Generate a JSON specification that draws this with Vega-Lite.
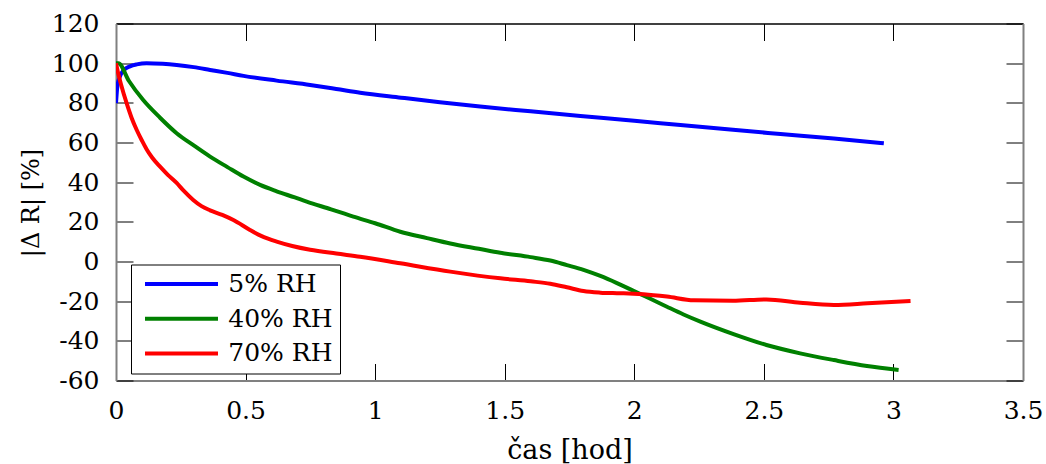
{
  "$schema": "https://vega.github.io/schema/vega-lite/v6.json",
  "autosize": {"type": "none"},
  "width": 907,
  "height": 357,
  "padding": {"left": 116, "top": 23.5, "right": 23, "bottom": 83.5},
  "background": "white",
  "config": {
    "view": {"stroke": null},
    "font": "DejaVu Serif",
    "axis": {
      "grid": false,
      "labelFont": "DejaVu Serif",
      "titleFont": "DejaVu Serif",
      "labelFontSize": 25,
      "titleFontSize": 25,
      "labelColor": "black",
      "titleColor": "black",
      "titleFontWeight": "normal",
      "tickColor": "black",
      "tickWidth": 1,
      "tickSize": -17,
      "domainColor": "#808080",
      "domainWidth": 2
    }
  },
  "data": {
    "values": [
      {"t": 0, "v": 79.8, "s": "5% RH"},
      {"t": 0.005, "v": 88, "s": "5% RH"},
      {"t": 0.015, "v": 93.2, "s": "5% RH"},
      {"t": 0.03, "v": 96.5, "s": "5% RH"},
      {"t": 0.054, "v": 98.4, "s": "5% RH"},
      {"t": 0.08, "v": 99.4, "s": "5% RH"},
      {"t": 0.118, "v": 100, "s": "5% RH"},
      {"t": 0.18, "v": 99.7, "s": "5% RH"},
      {"t": 0.234, "v": 99.1, "s": "5% RH"},
      {"t": 0.3, "v": 98, "s": "5% RH"},
      {"t": 0.363, "v": 96.6, "s": "5% RH"},
      {"t": 0.43, "v": 95.1, "s": "5% RH"},
      {"t": 0.492, "v": 93.6, "s": "5% RH"},
      {"t": 0.62, "v": 91.2, "s": "5% RH"},
      {"t": 0.749, "v": 89, "s": "5% RH"},
      {"t": 0.85, "v": 87, "s": "5% RH"},
      {"t": 0.942, "v": 85.1, "s": "5% RH"},
      {"t": 1.1, "v": 82.6, "s": "5% RH"},
      {"t": 1.25, "v": 80.3, "s": "5% RH"},
      {"t": 1.405, "v": 78.1, "s": "5% RH"},
      {"t": 1.6, "v": 75.7, "s": "5% RH"},
      {"t": 1.792, "v": 73.4, "s": "5% RH"},
      {"t": 2.0, "v": 71, "s": "5% RH"},
      {"t": 2.178, "v": 68.8, "s": "5% RH"},
      {"t": 2.37, "v": 66.5, "s": "5% RH"},
      {"t": 2.564, "v": 64.3, "s": "5% RH"},
      {"t": 2.77, "v": 62, "s": "5% RH"},
      {"t": 2.963, "v": 59.6, "s": "5% RH"},

      {"t": 0, "v": 100, "s": "40% RH"},
      {"t": 0.009, "v": 100, "s": "40% RH"},
      {"t": 0.05, "v": 91, "s": "40% RH"},
      {"t": 0.105, "v": 81.4, "s": "40% RH"},
      {"t": 0.17, "v": 72.5, "s": "40% RH"},
      {"t": 0.234, "v": 64.7, "s": "40% RH"},
      {"t": 0.3, "v": 58.5, "s": "40% RH"},
      {"t": 0.363, "v": 52.9, "s": "40% RH"},
      {"t": 0.43, "v": 47.6, "s": "40% RH"},
      {"t": 0.492, "v": 42.8, "s": "40% RH"},
      {"t": 0.556, "v": 38.6, "s": "40% RH"},
      {"t": 0.62, "v": 35.4, "s": "40% RH"},
      {"t": 0.69, "v": 32.3, "s": "40% RH"},
      {"t": 0.736, "v": 30.2, "s": "40% RH"},
      {"t": 0.83, "v": 26.3, "s": "40% RH"},
      {"t": 0.916, "v": 22.6, "s": "40% RH"},
      {"t": 1.0, "v": 19.3, "s": "40% RH"},
      {"t": 1.097, "v": 15, "s": "40% RH"},
      {"t": 1.2, "v": 11.8, "s": "40% RH"},
      {"t": 1.29, "v": 9.1, "s": "40% RH"},
      {"t": 1.4, "v": 6.4, "s": "40% RH"},
      {"t": 1.483, "v": 4.4, "s": "40% RH"},
      {"t": 1.6, "v": 2.2, "s": "40% RH"},
      {"t": 1.676, "v": 0.5, "s": "40% RH"},
      {"t": 1.74, "v": -1.8, "s": "40% RH"},
      {"t": 1.804, "v": -4.2, "s": "40% RH"},
      {"t": 1.869, "v": -7.3, "s": "40% RH"},
      {"t": 1.933, "v": -10.9, "s": "40% RH"},
      {"t": 1.997, "v": -14.8, "s": "40% RH"},
      {"t": 2.062, "v": -18.8, "s": "40% RH"},
      {"t": 2.126, "v": -22.8, "s": "40% RH"},
      {"t": 2.19, "v": -26.7, "s": "40% RH"},
      {"t": 2.255, "v": -30.3, "s": "40% RH"},
      {"t": 2.383, "v": -36.6, "s": "40% RH"},
      {"t": 2.51, "v": -42.1, "s": "40% RH"},
      {"t": 2.64, "v": -46.3, "s": "40% RH"},
      {"t": 2.77, "v": -49.7, "s": "40% RH"},
      {"t": 2.898, "v": -52.7, "s": "40% RH"},
      {"t": 3.02, "v": -54.7, "s": "40% RH"},

      {"t": 0, "v": 100, "s": "70% RH"},
      {"t": 0.01, "v": 94, "s": "70% RH"},
      {"t": 0.02, "v": 89, "s": "70% RH"},
      {"t": 0.041, "v": 79.8, "s": "70% RH"},
      {"t": 0.06, "v": 72.5, "s": "70% RH"},
      {"t": 0.08, "v": 66.3, "s": "70% RH"},
      {"t": 0.1, "v": 61, "s": "70% RH"},
      {"t": 0.118, "v": 56.6, "s": "70% RH"},
      {"t": 0.14, "v": 52.3, "s": "70% RH"},
      {"t": 0.17, "v": 47.8, "s": "70% RH"},
      {"t": 0.2, "v": 43.7, "s": "70% RH"},
      {"t": 0.234, "v": 39.6, "s": "70% RH"},
      {"t": 0.26, "v": 35.8, "s": "70% RH"},
      {"t": 0.298, "v": 31, "s": "70% RH"},
      {"t": 0.33, "v": 27.9, "s": "70% RH"},
      {"t": 0.363, "v": 25.8, "s": "70% RH"},
      {"t": 0.41, "v": 23.5, "s": "70% RH"},
      {"t": 0.453, "v": 20.9, "s": "70% RH"},
      {"t": 0.517, "v": 15.9, "s": "70% RH"},
      {"t": 0.56, "v": 12.9, "s": "70% RH"},
      {"t": 0.62, "v": 10, "s": "70% RH"},
      {"t": 0.68, "v": 7.8, "s": "70% RH"},
      {"t": 0.749, "v": 5.9, "s": "70% RH"},
      {"t": 0.85, "v": 4, "s": "70% RH"},
      {"t": 0.942, "v": 2.4, "s": "70% RH"},
      {"t": 1.097, "v": -0.9, "s": "70% RH"},
      {"t": 1.29, "v": -5.1, "s": "70% RH"},
      {"t": 1.483, "v": -8.5, "s": "70% RH"},
      {"t": 1.6, "v": -10, "s": "70% RH"},
      {"t": 1.676, "v": -11.2, "s": "70% RH"},
      {"t": 1.74, "v": -13, "s": "70% RH"},
      {"t": 1.804, "v": -14.9, "s": "70% RH"},
      {"t": 1.869, "v": -15.7, "s": "70% RH"},
      {"t": 1.933, "v": -16, "s": "70% RH"},
      {"t": 1.997, "v": -16.2, "s": "70% RH"},
      {"t": 2.036, "v": -16.5, "s": "70% RH"},
      {"t": 2.126, "v": -17.7, "s": "70% RH"},
      {"t": 2.23, "v": -19.6, "s": "70% RH"},
      {"t": 2.38, "v": -19.8, "s": "70% RH"},
      {"t": 2.51, "v": -19.1, "s": "70% RH"},
      {"t": 2.64, "v": -20.8, "s": "70% RH"},
      {"t": 2.77, "v": -21.9, "s": "70% RH"},
      {"t": 2.9, "v": -21.1, "s": "70% RH"},
      {"t": 3.066, "v": -19.9, "s": "70% RH"}
    ]
  },
  "layer": [
    {
      "mark": {"type": "line", "strokeWidth": 4, "interpolate": "monotone", "clip": true},
      "encoding": {
        "x": {
          "field": "t", "type": "quantitative",
          "scale": {"domain": [0, 3.5], "nice": false, "zero": false},
          "axis": {
            "orient": "bottom", "values": [0, 0.5, 1, 1.5, 2, 2.5, 3, 3.5],
            "labelExpr": "'' + datum.value", "labelFlush": false, "labelBaseline": "alphabetic",
            "labelPadding": 54.5, "title": "čas [hod]", "titleFontSize": 27,
            "titleBaseline": "alphabetic", "titleY": 77.5
          }
        },
        "y": {
          "field": "v", "type": "quantitative",
          "scale": {"domain": [-60, 120], "nice": false, "zero": false},
          "axis": {
            "orient": "left", "values": [-60, -40, -20, 0, 20, 40, 60, 80, 100, 120],
            "labelExpr": "'' + datum.value", "labelPadding": 34, "labelFlush": false,
            "title": "|Δ R| [%]", "titleFontSize": 24,
            "titleAngle": 270, "titleBaseline": "alphabetic", "titleAlign": "center",
            "titleX": -78, "titleY": 179
          }
        },
        "color": {
          "field": "s", "type": "nominal",
          "scale": {"domain": ["5% RH", "40% RH", "70% RH"], "range": ["#0000ff", "#008000", "#ff0000"]},
          "legend": {
            "title": null, "orient": "none", "legendX": 15, "legendY": 241,
            "symbolType": "M-4,0H4", "symbolSize": 333, "symbolStrokeWidth": 4,
            "symbolOffset": 31,
            "labelFont": "DejaVu Serif", "labelFontSize": 25, "labelColor": "black",
            "labelOffset": 34.3, "padding": 7, "rowPadding": 8.7,
            "strokeColor": "black", "fillColor": "white", "cornerRadius": 0
          }
        },
        "detail": {"field": "s"}
      }
    },
    {
      "mark": {"type": "line", "strokeOpacity": 0},
      "encoding": {
        "x": {
          "field": "t", "type": "quantitative",
          "axis": {"orient": "top", "values": [0, 0.5, 1, 1.5, 2, 2.5, 3, 3.5], "labels": false, "title": null, "domainColor": "black", "domainWidth": 1.5}
        },
        "y": {
          "field": "v", "type": "quantitative",
          "axis": {"orient": "right", "values": [-60, -40, -20, 0, 20, 40, 60, 80, 100, 120], "labels": false, "title": null}
        },
        "detail": {"field": "s"}
      }
    }
  ],
  "resolve": {"axis": {"x": "independent", "y": "independent"}}
}
